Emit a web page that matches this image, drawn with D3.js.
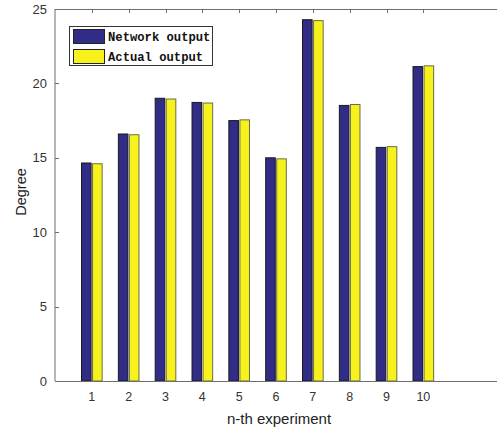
<!DOCTYPE html>
<html><head><meta charset="utf-8">
<script src="https://cdn.jsdelivr.net/npm/d3@7"></script>
<style>body{margin:0;background:#fff}svg{display:block}</style>
</head><body>
<svg id="c" width="497" height="430"></svg>
<script>
const experiments = [1,2,3,4,5,6,7,8,9,10];
const networkOutput = [14.65,16.6,19.0,18.72,17.5,15.0,24.28,18.52,15.7,21.13];
const actualOutput  = [14.6,16.55,18.95,18.68,17.55,14.93,24.22,18.58,15.75,21.18];
const yTicks = [0,5,10,15,20,25];
const seriesNames = ["Network output","Actual output"];
const seriesColors = ["#312c85","#f7f21c"];
const seriesStroke = ["#1a1a1a","#6b6b4a"];

const svg = d3.select("#c");
const L=55, R=497, T=9, B=381;
const x = d3.scaleLinear().domain([0,12]).range([L,R]);
const y = d3.scaleLinear().domain([0,25]).range([B,T]);
const bw = 0.26;

// bars
const series = [networkOutput, actualOutput];
series.forEach((vals,si)=>{
  svg.append("g").selectAll("rect").data(experiments).join("rect")
    .attr("x", (d,i)=> si===0 ? x(d - 0.02 - bw) : x(d + 0.02))
    .attr("width", x(bw)-x(0))
    .attr("y", (d,i)=> y(vals[i]))
    .attr("height", (d,i)=> y(0)-y(vals[i]))
    .attr("fill", seriesColors[si])
    .attr("stroke", seriesStroke[si]).attr("stroke-width",1);
});

// axes lines
const axisColor="#6e6e6e";
svg.append("line").attr("x1",L).attr("x2",L).attr("y1",T).attr("y2",B).attr("stroke",axisColor);
svg.append("line").attr("x1",L).attr("x2",R).attr("y1",B+0.5).attr("y2",B+0.5).attr("stroke",axisColor);
svg.append("line").attr("x1",L).attr("x2",R).attr("y1",T+0.5).attr("y2",T+0.5).attr("stroke",axisColor);

// y ticks
const gy = svg.append("g");
yTicks.forEach(t=>{
  gy.append("line").attr("x1",L).attr("x2",L+4).attr("y1",Math.round(y(t))+0.5).attr("y2",Math.round(y(t))+0.5).attr("stroke",axisColor);
  gy.append("text").attr("x",L-8).attr("y",y(t)).attr("dy","0.35em")
    .attr("text-anchor","end").attr("font-family","Liberation Sans, Arial, sans-serif")
    .attr("font-size",13).attr("fill","#333").text(t);
});
// x ticks
const gx = svg.append("g");
experiments.forEach(t=>{
  gx.append("line").attr("x1",Math.round(x(t))+0.5).attr("x2",Math.round(x(t))+0.5).attr("y1",T).attr("y2",T+4).attr("stroke",axisColor);
  gx.append("text").attr("x",x(t)).attr("y",B+16).attr("dy","0.35em")
    .attr("text-anchor","middle").attr("font-family","Liberation Sans, Arial, sans-serif")
    .attr("font-size",12.5).attr("fill","#333").text(t);
});

// axis titles
svg.append("text").attr("x",279).attr("y",424).attr("text-anchor","middle")
  .attr("font-family","Liberation Sans, Arial, sans-serif").attr("font-size",15).attr("fill","#222")
  .text("n-th experiment");
svg.append("text").attr("transform","translate(26,192) rotate(-90)").attr("text-anchor","middle")
  .attr("font-family","Liberation Sans, Arial, sans-serif").attr("font-size",14.5).attr("fill","#222")
  .text("Degree");

// legend
const lg = svg.append("g");
lg.append("rect").attr("x",69.5).attr("y",26.5).attr("width",143).attr("height",39)
  .attr("fill","#fff").attr("stroke","#333");
seriesNames.forEach((n,i)=>{
  const yy = 29 + i*20;
  lg.append("rect").attr("x",73.5).attr("y",yy+0.5).attr("width",31).attr("height",14)
    .attr("fill",seriesColors[i]).attr("stroke","#222");
  lg.append("text").attr("x",108).attr("y",yy+7.5).attr("dy","0.35em")
    .attr("font-family","Liberation Mono, DejaVu Sans Mono, monospace").attr("font-weight","bold")
    .attr("font-size",12.2).attr("fill","#111").text(n);
});
</script>
</body></html>
